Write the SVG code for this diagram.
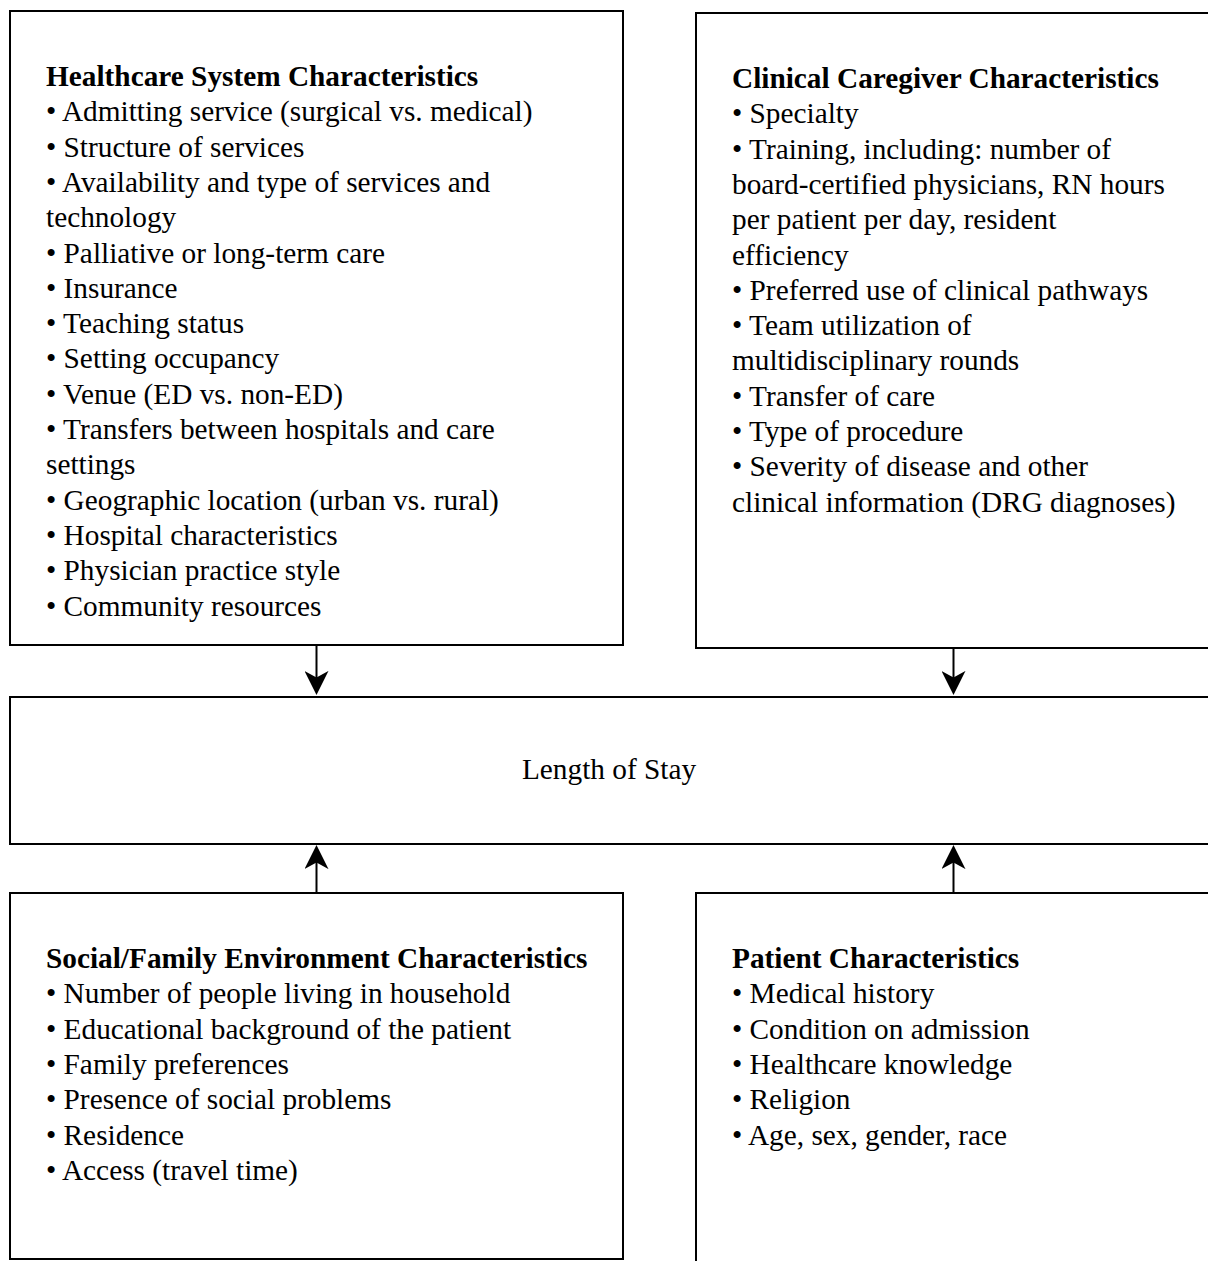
<svg xmlns="http://www.w3.org/2000/svg" width="1208" height="1261" viewBox="0 0 1208 1261">
<style>
.box{fill:#ffffff;stroke:#000000;stroke-width:2}
.t{font-family:"Liberation Serif","Times New Roman",serif;font-size:29.3px;fill:#000000}
.b{font-weight:bold}
.conn{stroke:#000000;stroke-width:2;fill:none}
</style>
<defs>
<marker id="arr" markerUnits="userSpaceOnUse" markerWidth="24" markerHeight="24" viewBox="0 0 22 22" refX="12" refY="11" orient="auto">
<path d="M0,0 L22,11 L0,22 L6,11 Z" fill="#000000"/>
</marker>
</defs>
<rect width="1208" height="1261" fill="#ffffff"/>
<g id="healthcare-system">
<rect class="box" x="10" y="11" width="613" height="634"/>
<text class="t" x="46">
<tspan class="b" x="46" y="86">Healthcare System Characteristics</tspan>
<tspan x="46" y="121.3">• Admitting service (surgical vs. medical)</tspan>
<tspan x="46" y="156.6">• Structure of services</tspan>
<tspan x="46" y="191.9">• Availability and type of services and</tspan>
<tspan x="46" y="227.2">technology</tspan>
<tspan x="46" y="262.5">• Palliative or long-term care</tspan>
<tspan x="46" y="297.8">• Insurance</tspan>
<tspan x="46" y="333.1">• Teaching status</tspan>
<tspan x="46" y="368.4">• Setting occupancy</tspan>
<tspan x="46" y="403.7">• Venue (ED vs. non-ED)</tspan>
<tspan x="46" y="439">• Transfers between hospitals and care</tspan>
<tspan x="46" y="474.3">settings</tspan>
<tspan x="46" y="509.6">• Geographic location (urban vs. rural)</tspan>
<tspan x="46" y="544.9">• Hospital characteristics</tspan>
<tspan x="46" y="580.2">• Physician practice style</tspan>
<tspan x="46" y="615.5">• Community resources</tspan>
</text>
</g>
<g id="clinical-caregiver">
<rect class="box" x="696" y="13" width="600" height="635"/>
<text class="t" x="732">
<tspan class="b" x="732" y="88">Clinical Caregiver Characteristics</tspan>
<tspan x="732" y="123.3">• Specialty</tspan>
<tspan x="732" y="158.6">• Training, including: number of</tspan>
<tspan x="732" y="193.9">board-certified physicians, RN hours</tspan>
<tspan x="732" y="229.2">per patient per day, resident</tspan>
<tspan x="732" y="264.5">efficiency</tspan>
<tspan x="732" y="299.8">• Preferred use of clinical pathways</tspan>
<tspan x="732" y="335.1">• Team utilization of</tspan>
<tspan x="732" y="370.4">multidisciplinary rounds</tspan>
<tspan x="732" y="405.7">• Transfer of care</tspan>
<tspan x="732" y="441">• Type of procedure</tspan>
<tspan x="732" y="476.3">• Severity of disease and other</tspan>
<tspan x="732" y="511.6">clinical information (DRG diagnoses)</tspan>
</text>
</g>
<g id="length-of-stay">
<rect class="box" x="10" y="697" width="1300" height="147"/>
<text class="t" x="609" y="779" text-anchor="middle">Length of Stay</text>
</g>
<g id="social-family">
<rect class="box" x="10" y="893" width="613" height="366"/>
<text class="t" x="46">
<tspan class="b" x="46" y="968">Social/Family Environment Characteristics</tspan>
<tspan x="46" y="1003.3">• Number of people living in household</tspan>
<tspan x="46" y="1038.6">• Educational background of the patient</tspan>
<tspan x="46" y="1073.9">• Family preferences</tspan>
<tspan x="46" y="1109.2">• Presence of social problems</tspan>
<tspan x="46" y="1144.5">• Residence</tspan>
<tspan x="46" y="1179.8">• Access (travel time)</tspan>
</text>
</g>
<g id="patient">
<rect class="box" x="696" y="893" width="600" height="450"/>
<text class="t" x="732">
<tspan class="b" x="732" y="968">Patient Characteristics</tspan>
<tspan x="732" y="1003.3">• Medical history</tspan>
<tspan x="732" y="1038.6">• Condition on admission</tspan>
<tspan x="732" y="1073.9">• Healthcare knowledge</tspan>
<tspan x="732" y="1109.2">• Religion</tspan>
<tspan x="732" y="1144.5">• Age, sex, gender, race</tspan>
</text>
</g>
<g id="connectors">
<line class="conn" x1="316.5" y1="645" x2="316.5" y2="684" marker-end="url(#arr)"/>
<line class="conn" x1="953.5" y1="648" x2="953.5" y2="684" marker-end="url(#arr)"/>
<line class="conn" x1="316.5" y1="893" x2="316.5" y2="856" marker-end="url(#arr)"/>
<line class="conn" x1="953.5" y1="893" x2="953.5" y2="856" marker-end="url(#arr)"/>
</g>
</svg>
